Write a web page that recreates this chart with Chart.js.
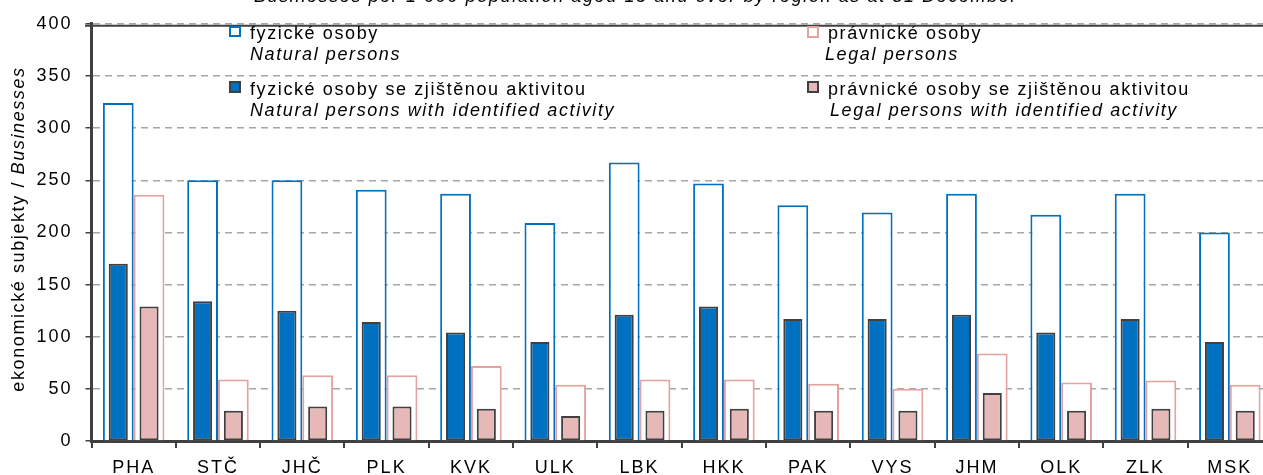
<!DOCTYPE html>
<html><head><meta charset="utf-8">
<script src="https://cdn.jsdelivr.net/npm/chart.js@4.4.1/dist/chart.umd.min.js"></script>
<style>
html,body{margin:0;padding:0;background:#fff;overflow:hidden;width:1263px;height:475px}
#wrap{position:relative;width:1272px;height:475px}
#c{position:absolute;left:0;top:0}
.t{position:absolute;font-family:"Liberation Sans",Arial,sans-serif;font-size:18px;letter-spacing:1.6px;color:#000;white-space:nowrap;line-height:20px}
.i{font-style:italic}
.box{position:absolute;box-sizing:border-box}
</style></head>
<body>
<div id="wrap">
<canvas id="c" width="1272" height="475"></canvas>
<div class="t i" style="left:0;width:1272px;text-align:center;top:-14px">Businesses per 1 000 population aged 15 and over by region as at 31 December</div>
<div class="box" style="left:229px;top:26px;width:12px;height:11px;border:2px solid #0070C0;background:#fff"></div>
<div class="t" style="left:250px;top:23px">fyzické osoby</div>
<div class="t i" style="left:250px;top:44px">Natural persons</div>
<div class="box" style="left:229px;top:81px;width:12px;height:12px;border:2px solid #404040;background:#0070C0"></div>
<div class="t" style="left:250px;top:79px">fyzické osoby se zjištěnou aktivitou</div>
<div class="t i" style="left:250px;top:100px">Natural persons with identified activity</div>
<div class="box" style="left:807px;top:26px;width:12px;height:12px;border:2px solid #E6A1A1;background:#fff"></div>
<div class="t" style="left:828px;top:23px">právnické osoby</div>
<div class="t i" style="left:825px;top:44px">Legal persons</div>
<div class="box" style="left:807px;top:81px;width:12px;height:12px;border:2px solid #404040;background:#E6B8B7"></div>
<div class="t" style="left:828px;top:79px">právnické osoby se zjištěnou aktivitou</div>
<div class="t i" style="left:830px;top:100px">Legal persons with identified activity</div>
</div>
<script>
const regions = ['PHA','STČ','JHČ','PLK','KVK','ULK','LBK','HKK','PAK','VYS','JHM','OLK','ZLK','MSK'];
const naturalPersons = [324,250,250,241,237,209,267,247,226,219,237,217,237,200];
const legalPersons = [236,59,63,63,72,54,59,59,55,50,84,56,58,54];
const naturalActive = [170,134,125,114,104,95,121,129,117,117,121,104,117,95];
const legalActive = [129,29,33,33,31,24,29,31,29,29,46,29,31,29];
const yTicks = [0,50,100,150,200,250,300,350,400];

const FONT = '"Liberation Sans", Arial, sans-serif';
const SP = '2px';
const spacingPlugin = {
  id:'spacing',
  beforeUpdate(chart){ chart.ctx.letterSpacing=SP; },
  beforeLayout(chart){ chart.ctx.letterSpacing=SP; },
  beforeDraw(chart){ chart.ctx.letterSpacing=SP; }
};
const extrasPlugin = {
  id:'extras',
  afterDraw(chart){
    const ctx = chart.ctx, ca = chart.chartArea;
    ctx.save();
    ctx.strokeStyle='#404040'; ctx.lineWidth=2;
    ctx.beginPath(); ctx.moveTo(85, ca.top+2); ctx.lineTo(ca.right, ca.top+2); ctx.stroke();
    ctx.restore();
    ctx.save();
    ctx.translate(19, 229); ctx.rotate(-Math.PI/2);
    ctx.letterSpacing='1.6px';
    ctx.textBaseline='middle'; ctx.textAlign='left'; ctx.fillStyle='#000';
    const a='ekonomické subjekty / ', b='Businesses';
    ctx.font='18px '+FONT; const wa=ctx.measureText(a).width;
    ctx.font='italic 18px '+FONT; const wb=ctx.measureText(b).width;
    const s=-(wa+wb)/2;
    ctx.font='18px '+FONT; ctx.fillText(a,s,0);
    ctx.font='italic 18px '+FONT; ctx.fillText(b,s+wa,0);
    ctx.restore();
  }
};

new Chart(document.getElementById('c'), {
  type:'bar',
  data:{
    labels: regions,
    datasets:[
      {label:'fyzické osoby se zjištěnou aktivitou', data:naturalActive, stack:'n', order:0,
       backgroundColor:'#0070C0', borderColor:'#404040', borderWidth:2, borderSkipped:false,
       categoryPercentage:0.73, barPercentage:0.62},
      {label:'právnické osoby se zjištěnou aktivitou', data:legalActive, stack:'l', order:0,
       backgroundColor:'#E6B8B7', borderColor:'#404040', borderWidth:2, borderSkipped:false,
       categoryPercentage:0.73, barPercentage:0.62},
      {label:'fyzické osoby', data:naturalPersons, stack:'n', order:1,
       backgroundColor:'#FFFFFF', borderColor:'#0070C0', borderWidth:2,
       categoryPercentage:0.73, barPercentage:1.0},
      {label:'právnické osoby', data:legalPersons, stack:'l', order:1,
       backgroundColor:'#FFFFFF', borderColor:'#E6A1A1', borderWidth:2,
       categoryPercentage:0.73, barPercentage:1.0}
    ]
  },
  options:{
    responsive:false, animation:false, devicePixelRatio:1,
    layout:{padding:{top:13.5,left:0,right:0,bottom:0}},
    plugins:{legend:{display:false}, tooltip:{enabled:false}, title:{display:false}},
    scales:{
      x:{type:'category', offset:true,
         grid:{offset:true, drawOnChartArea:false, drawTicks:true, tickLength:7, color:'#404040', lineWidth:2},
         border:{display:true, color:'#404040', width:3},
         ticks:{font:{family:FONT, size:18}, color:'#000', padding:9, maxRotation:0, autoSkip:false},
         afterFit(s){ s.height=34; }},
      y:{min:0, max:400, stacked:false,
         afterBuildTicks(s){ s.ticks = yTicks.map(v=>({value:v})); },
         grid:{color:'#A6A6A6', lineWidth:1.5, drawTicks:true, tickLength:6, tickColor:'#404040', tickWidth:1.5},
         border:{display:true, color:'#404040', width:3, dash:[7,5]},
         ticks:{font:{family:FONT, size:18}, color:'#000', padding:13},
         afterFit(s){ s.width=91.5; }}
    }
  },
  plugins:[spacingPlugin, extrasPlugin]
});
</script>
</body></html>
